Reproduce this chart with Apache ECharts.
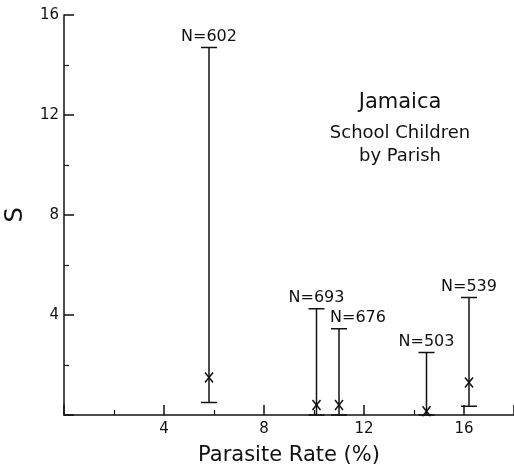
<!DOCTYPE html>
<html>
<head>
<meta charset="utf-8">
<script src="https://cdn.jsdelivr.net/npm/echarts@6/dist/echarts.min.js"></script>
<style>
  html, body { margin: 0; padding: 0; background: #fff; }
  #chart { width: 514px; height: 468px; }
</style>
</head>
<body>
<div id="chart"></div>
<script>
// parasite rate (%) per parish
var rate = [5.8, 10.1, 11.0, 14.5, 16.2]
// S: mean, lower and upper limits
var sMean = [1.5, 0.4, 0.4, 0.15, 1.3]
var sLow = [0.5, 0, 0, 0, 0.35]
var sHigh = [14.7, 4.25, 3.45, 2.5, 4.7]
var sampleN = ['N=602', 'N=693', 'N=676', 'N=503', 'N=539']
var titleLines = ['Jamaica', 'School Children', 'by Parish']

var font = 'DejaVu Sans'
var ink = '#111'

var data = rate.map(function (x, i) {
  return [x, sLow[i], sHigh[i], sMean[i], sampleN[i]]
})

function renderBar(params, api) {
  var x = api.value(0)
  var lo = api.coord([x, api.value(1)])
  var hi = api.coord([x, api.value(2)])
  var mid = api.coord([x, api.value(3)])
  var cap = 8
  var st = { stroke: ink, lineWidth: 1.5 }
  var kids = [
    { type: 'line', shape: { x1: hi[0], y1: hi[1], x2: lo[0], y2: lo[1] }, style: st },
    { type: 'line', shape: { x1: hi[0] - cap, y1: hi[1], x2: hi[0] + cap, y2: hi[1] }, style: st },
    { type: 'line', shape: { x1: lo[0] - cap, y1: lo[1], x2: lo[0] + cap, y2: lo[1] }, style: st },
    { type: 'line', shape: { x1: mid[0] - 4, y1: mid[1] - 5, x2: mid[0] + 4, y2: mid[1] + 5 }, style: st },
    { type: 'line', shape: { x1: mid[0] + 4, y1: mid[1] - 5, x2: mid[0] - 4, y2: mid[1] + 5 }, style: st }
  ]
  // label for N=676 sits a bit to the right in the original
  var dx = params.dataIndex === 2 ? 19 : 0
  kids.push({
    type: 'text',
    style: {
      x: hi[0] + dx, y: hi[1] - 3, text: api.value(4),
      fill: ink, font: '16px "' + font + '"', align: 'center', verticalAlign: 'bottom'
    }
  })
  return { type: 'group', children: kids }
}

var chart = echarts.init(document.getElementById('chart'))
chart.setOption({
  backgroundColor: '#fff',
  animation: false,
  grid: { left: 64, right: 0, top: 15, bottom: 53, outerBoundsMode: 'none', containLabel: false },
  xAxis: {
    type: 'value', min: 0, max: 18, interval: 4,
    name: 'Parasite Rate (%)', nameLocation: 'middle', nameGap: 30,
    nameTextStyle: { color: ink, fontFamily: font, fontSize: 21 },
    axisLine: { lineStyle: { color: ink, width: 1.5 } },
    axisTick: { inside: true, length: 10, lineStyle: { color: ink, width: 1.5 } },
    minorTick: { show: true, splitNumber: 2, length: 5, lineStyle: { color: ink, width: 1.2 } },
    splitLine: { show: false },
    axisLabel: {
      color: ink, fontFamily: font, fontSize: 15, margin: 7,
      formatter: function (v) { return v > 0 && v % 4 === 0 ? v : '' }
    }
  },
  yAxis: {
    type: 'value', min: 0, max: 16, interval: 4,
    name: 'S', nameLocation: 'middle', nameGap: 36,
    nameTextStyle: { color: ink, fontFamily: font, fontSize: 24 },
    axisLine: { lineStyle: { color: ink, width: 1.5 } },
    axisTick: { inside: true, length: 10, lineStyle: { color: ink, width: 1.5 } },
    minorTick: { show: true, splitNumber: 2, length: 5, lineStyle: { color: ink, width: 1.2 } },
    splitLine: { show: false },
    axisLabel: {
      color: ink, fontFamily: font, fontSize: 15, margin: 5,
      formatter: function (v) { return v > 0 ? v : '' }
    }
  },
  graphic: titleLines.map(function (t, i) {
    return {
      type: 'text',
      style: {
        x: 400, y: [103, 133, 156][i], text: t, fill: ink,
        font: (i === 0 ? 21 : 18) + 'px "' + font + '"',
        align: 'center', verticalAlign: 'middle'
      }
    }
  }),
  series: [{
    type: 'custom',
    renderItem: renderBar,
    data: data,
    encode: { x: 0, y: [1, 2] },
    clip: false
  }]
})
</script>
</body>
</html>
